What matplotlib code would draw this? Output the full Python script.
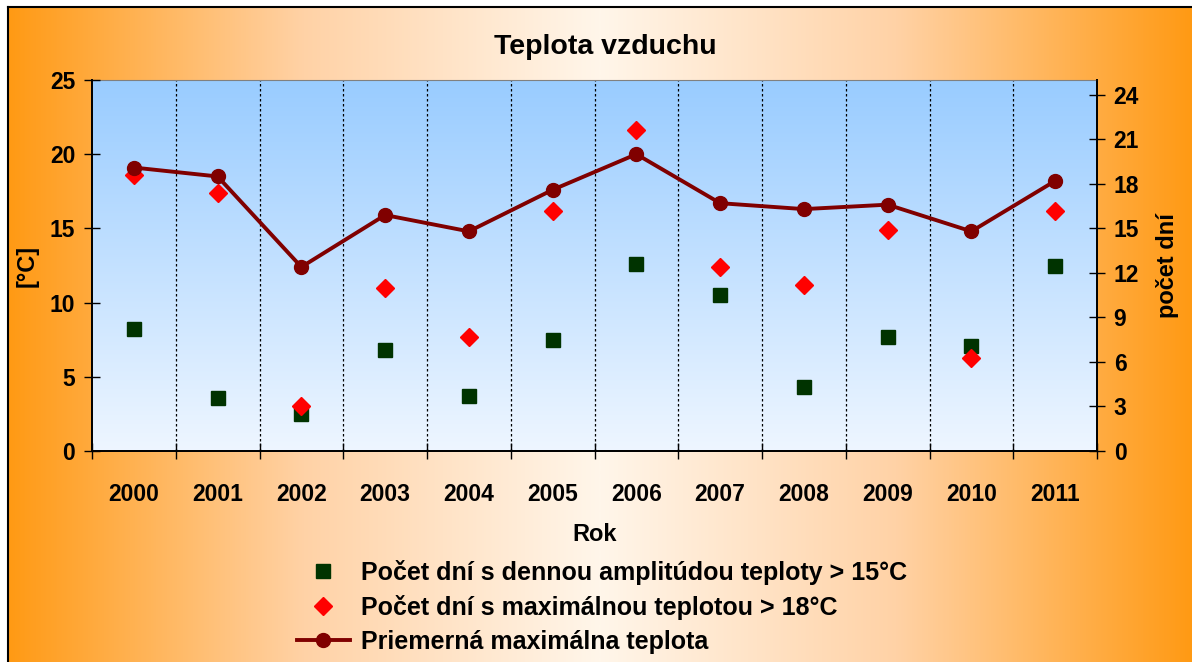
import numpy as np
import matplotlib
matplotlib.use("Agg")
import matplotlib.pyplot as plt
from matplotlib.colors import LinearSegmentedColormap

plt.rcParams['font.family'] = ['Liberation Sans', 'DejaVu Sans']
plt.rcParams['font.weight'] = 'bold'

# data
years = ['2000', '2001', '2002', '2003', '2004', '2005',
         '2006', '2007', '2008', '2009', '2010', '2011']
dni_amplituda = [8.2, 3.6, 2.5, 6.8, 3.7, 7.5, 12.6, 10.5, 4.3, 7.7, 7.1, 12.5]
dni_max18 = [18.6, 17.4, 3.0, 11.0, 7.7, 16.2, 21.6, 12.4, 11.2, 14.9, 6.3, 16.2]
priem_max_tepl = [19.1, 18.5, 12.4, 15.9, 14.8, 17.6, 20.0, 16.7, 16.3, 16.6, 14.8, 18.2]

W, H = 1192, 662
fig = plt.figure(figsize=(W / 100, H / 100), dpi=100)
fig.patch.set_facecolor('white')

# orange background, light in the middle
bg = fig.add_axes([8 / W, 0, 1 - 8 / W, 1 - 7 / H], zorder=-5)
cmap_bg = LinearSegmentedColormap.from_list('bg', ['#FFF6EA', '#FFD2A6', '#FF9A14'])
grad = np.abs(np.linspace(-1, 1, 512))[None, :]
bg.imshow(grad, aspect='auto', cmap=cmap_bg, extent=[0, 1, 0, 1])
bg.set_xticks([]); bg.set_yticks([])
for s in ['right', 'bottom']:
    bg.spines[s].set_visible(False)
bg.spines['top'].set_linewidth(1.5)
bg.spines['left'].set_linewidth(1.5)

x = np.arange(len(years))
ax2 = fig.add_axes([92 / W, 1 - 451 / H, (1097 - 92) / W, (451 - 80) / H])
ax = ax2.twinx()
ax.yaxis.tick_left()
ax.yaxis.set_label_position('left')
ax2.yaxis.tick_right()
ax2.yaxis.set_label_position('right')
ax.set_zorder(ax2.get_zorder() + 1)
ax.patch.set_visible(False)

# blue plot area gradient
cmap_pl = LinearSegmentedColormap.from_list('pl', ['#EEF6FF', '#99CCFF'])
ax2.imshow(np.linspace(0, 1, 256)[:, None], aspect='auto', cmap=cmap_pl,
           origin='lower', extent=[-0.5, 11.5, 0, 25], zorder=0)

for b in np.arange(0.5, 11, 1):
    ax2.axvline(b, color='black', lw=0.9, ls=(0, (2, 2)), zorder=1)

ax2.plot(x, dni_amplituda, ls='none', marker='s', ms=10.5, color='#003300',
         label='Počet dní s dennou amplitúdou teploty > 15°C', zorder=3)
ax2.plot(x, dni_max18, ls='none', marker='D', ms=9, color='#FF0000',
         label='Počet dní s maximálnou teplotou > 18°C', zorder=4)
ax.plot(x, priem_max_tepl, color='#800000', lw=2.8, marker='o', ms=10,
        label='Priemerná maximálna teplota', zorder=5)

for a in (ax, ax2):
    a.set_xlim(-0.5, 11.5)
    a.set_ylim(0, 25)
ax.set_yticks(range(0, 26, 5))
ax2.set_yticks(range(0, 25, 3))
ax2.set_xticks(np.arange(-0.5, 12, 1))
ax2.set_xticklabels([])
ax2.set_xticks(x, minor=True)
ax2.set_xticklabels(years, minor=True)
ax2.tick_params(axis='x', which='major', direction='inout', length=12, width=1)
ax2.tick_params(axis='x', which='minor', length=0, pad=23, labelsize=16.5)
ax.tick_params(axis='y', direction='inout', length=12, width=1, labelsize=16.5, pad=6)
ax2.tick_params(axis='y', direction='inout', length=12, width=1, labelsize=16.5, pad=6)
ax.tick_params(axis='x', bottom=False, labelbottom=False)

ax2.spines['top'].set_color('#808080')
ax.spines['top'].set_visible(False)
for a in (ax, ax2):
    for s in ['left', 'right', 'bottom']:
        a.spines[s].set_linewidth(1.3)

ax.set_ylabel('[°C]', fontsize=17, fontweight='bold', labelpad=8)
ax2.set_ylabel('počet dní', fontsize=17, fontweight='bold', labelpad=12)
ax2.set_xlabel('Rok', fontsize=17, fontweight='bold', labelpad=12)
fig.text(605 / W, 1 - 47 / H, 'Teplota vzduchu', ha='center', va='center',
         fontsize=20.5, fontweight='bold')

handles = ax2.get_legend_handles_labels()[0] + ax.get_legend_handles_labels()[0]
fig.legend(handles=handles, loc='upper left', bbox_to_anchor=(287 / W, 1 - 550 / H),
           frameon=False, prop={'size': 18, 'weight': 'bold'}, handlelength=2.1,
           handletextpad=0.45, labelspacing=0.4, borderaxespad=0)

fig.savefig('out.png', dpi=100)
